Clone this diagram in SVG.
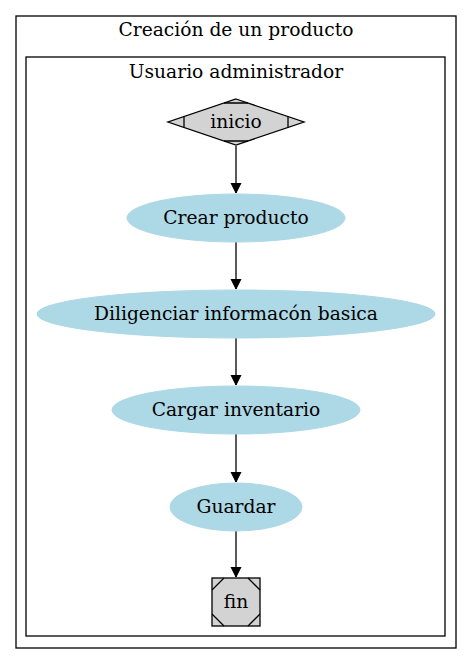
<svg xmlns="http://www.w3.org/2000/svg" width="472" height="664" viewBox="0 0 472 664">
<defs>
<marker id="arr" markerWidth="10" markerHeight="14" refX="10" refY="5" orient="auto" markerUnits="userSpaceOnUse" viewBox="0 0 10 10">
<path d="M0,0 L10,5 L0,10 Z" fill="#000" stroke="#000" stroke-width="1"/>
</marker>
</defs>
<style>
text{font-family:"DejaVu Serif","Liberation Serif",serif;font-size:18.67px;fill:#000;text-anchor:middle}
.cl{fill:none;stroke:#000;stroke-width:1.3}
.el{fill:#add8e6;stroke:#add8e6}
.gr{fill:#d3d3d3;stroke:#000;stroke-width:1.3}
.tk{fill:none;stroke:#000;stroke-width:1.3}
.ed{fill:none;stroke:#000;stroke-width:1.3}
</style>
<rect width="472" height="664" fill="#fff"/>
<g id="cluster_outer">
<rect class="cl" x="16" y="16" width="440" height="632"/>
<text x="236" y="36">Creación de un producto</text>
</g>
<g id="cluster_inner">
<rect class="cl" x="26" y="57" width="419" height="579"/>
<text x="236" y="78">Usuario administrador</text>
</g>
<g id="edges">
<line class="ed" x1="236" y1="146" x2="236" y2="193" marker-end="url(#arr)"/>
<line class="ed" x1="236" y1="242" x2="236" y2="289" marker-end="url(#arr)"/>
<line class="ed" x1="236" y1="338" x2="236" y2="385" marker-end="url(#arr)"/>
<line class="ed" x1="236" y1="434" x2="236" y2="482" marker-end="url(#arr)"/>
<line class="ed" x1="236" y1="531" x2="236" y2="577" marker-end="url(#arr)"/>
</g>
<g id="inicio">
<polygon class="gr" points="236,99 304,122 236,145 168,122"/>
<path class="tk" d="M224,103 L248,103 M184,116.6 L184,127.4 M288,116.6 L288,127.4 M224,141 L248,141"/>
<text x="236" y="128">inicio</text>
</g>
<g id="crear">
<ellipse class="el" cx="236" cy="218" rx="109" ry="24"/>
<text x="236" y="224">Crear producto</text>
</g>
<g id="diligenciar">
<ellipse class="el" cx="236" cy="314" rx="199" ry="24"/>
<text x="236" y="320">Diligenciar informacón basica</text>
</g>
<g id="cargar">
<ellipse class="el" cx="236" cy="410" rx="124" ry="24"/>
<text x="236" y="416">Cargar inventario</text>
</g>
<g id="guardar">
<ellipse class="el" cx="236" cy="507" rx="66" ry="24"/>
<text x="236" y="513">Guardar</text>
</g>
<g id="fin">
<rect class="gr" x="212" y="578" width="48" height="48"/>
<path class="tk" d="M212,590 L224,578 M248,578 L260,590 M260,614 L248,626 M224,626 L212,614"/>
<text x="236" y="608">fin</text>
</g>
</svg>
